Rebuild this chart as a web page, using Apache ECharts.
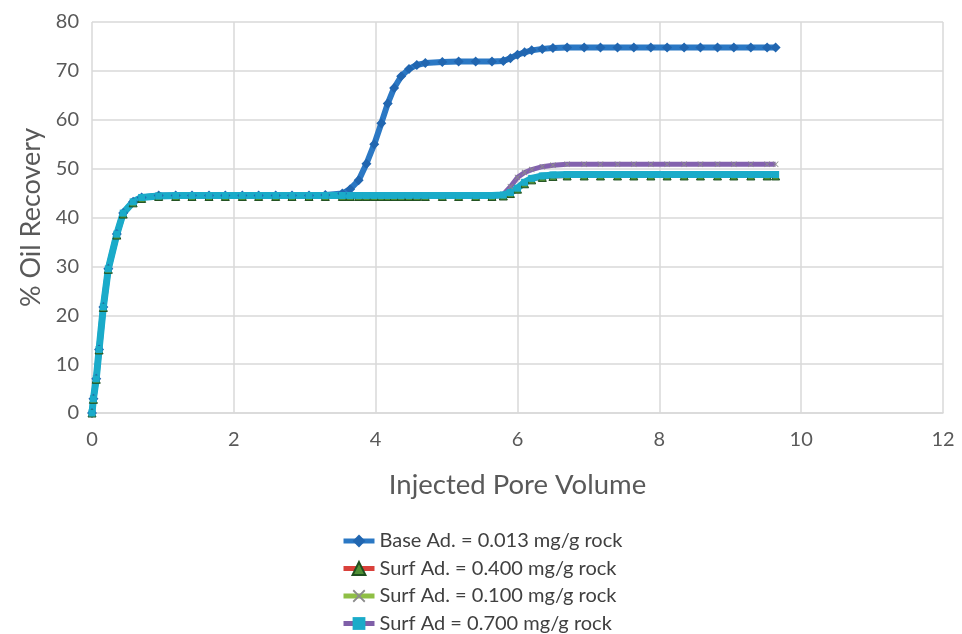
<!DOCTYPE html>
<html>
<head>
<meta charset="utf-8">
<script src="https://cdn.jsdelivr.net/npm/echarts@6/dist/echarts.min.js"></script>
<style>
  html, body { margin: 0; padding: 0; background: #ffffff; }
  #chart { width: 962px; height: 634px; }
</style>
</head>
<body>
<div id="chart"></div>
<script>
// Injected pore volume at each recorded step
const pv = [
  0, 0.02, 0.06, 0.10, 0.16, 0.23, 0.35, 0.44, 0.58, 0.70, 0.94,
  1.18, 1.41, 1.65, 1.88, 2.12, 2.35, 2.59, 2.82, 3.06, 3.29, 3.53,
  3.64, 3.76, 3.87, 3.98, 4.08, 4.17, 4.26, 4.36, 4.47, 4.58, 4.70,
  4.94, 5.17, 5.41, 5.64, 5.80, 5.90, 6.00, 6.10, 6.20, 6.35, 6.50, 6.70,
  6.94, 7.17, 7.41, 7.64, 7.88, 8.11, 8.35, 8.58, 8.82, 9.05, 9.29, 9.52, 9.64
];

// % oil recovery for each adsorption case
const baseAd = [
  0, 2.9, 7.0, 13.0, 21.7, 29.5, 36.6, 40.9, 43.2, 44.1, 44.5,
  44.5, 44.5, 44.5, 44.5, 44.5, 44.5, 44.5, 44.5, 44.5, 44.6, 44.9,
  45.8, 47.6, 51.0, 55.0, 59.3, 63.3, 66.5, 68.9, 70.4, 71.2, 71.6,
  71.8, 71.9, 71.9, 71.9, 72.0, 72.6, 73.3, 73.8, 74.2, 74.5, 74.7, 74.8,
  74.8, 74.8, 74.8, 74.8, 74.8, 74.8, 74.8, 74.8, 74.8, 74.8, 74.8, 74.8, 74.8
];
const surf400 = [
  0, 2.8, 6.9, 12.9, 21.6, 29.4, 36.4, 40.7, 43.0, 43.9, 44.3,
  44.3, 44.3, 44.3, 44.3, 44.3, 44.3, 44.3, 44.3, 44.3, 44.3, 44.3,
  44.3, 44.3, 44.3, 44.3, 44.3, 44.3, 44.3, 44.3, 44.3, 44.3, 44.3,
  44.3, 44.3, 44.3, 44.3, 44.4, 44.9, 45.8, 46.9, 47.7, 48.2, 48.4, 48.5,
  48.5, 48.5, 48.5, 48.5, 48.5, 48.5, 48.5, 48.5, 48.5, 48.5, 48.5, 48.5, 48.5
];
const surf100 = [
  0, 2.9, 7.0, 13.0, 21.7, 29.5, 36.6, 40.9, 43.2, 44.1, 44.4,
  44.5, 44.5, 44.5, 44.5, 44.5, 44.5, 44.5, 44.5, 44.5, 44.5, 44.5,
  44.5, 44.5, 44.5, 44.5, 44.5, 44.5, 44.5, 44.5, 44.5, 44.5, 44.5,
  44.5, 44.5, 44.5, 44.5, 44.7, 46.3, 48.2, 49.2, 49.8, 50.4, 50.7, 50.9,
  50.9, 50.9, 50.9, 50.9, 50.9, 50.9, 50.9, 50.9, 50.9, 50.9, 50.9, 50.9, 50.9
];
const surf700 = [
  0, 2.9, 7.0, 13.0, 21.7, 29.5, 36.6, 40.9, 43.2, 44.1, 44.4,
  44.5, 44.5, 44.5, 44.5, 44.5, 44.5, 44.5, 44.5, 44.5, 44.5, 44.5,
  44.5, 44.5, 44.5, 44.5, 44.5, 44.5, 44.5, 44.5, 44.5, 44.5, 44.5,
  44.5, 44.5, 44.5, 44.5, 44.6, 45.1, 46.0, 47.2, 48.0, 48.5, 48.7, 48.8,
  48.8, 48.8, 48.8, 48.8, 48.8, 48.8, 48.8, 48.8, 48.8, 48.8, 48.8, 48.8, 48.8
];

const seriesNames = [
  'Base Ad. = 0.013 mg/g rock',
  'Surf Ad. = 0.400 mg/g rock',
  'Surf Ad. = 0.100 mg/g rock',
  'Surf Ad = 0.700 mg/g rock'
];

const xTicks = { min: 0, max: 12, interval: 2 };
const yTicks = { min: 0, max: 80, interval: 10 };

const FONT = 'Lato';
const pairs = ys => pv.map((x, i) => [x, ys[i]]);
const crossPath = 'path://M0,1L1,0L5,4L9,0L10,1L6,5L10,9L9,10L5,6L1,10L0,9L4,5Z';

const chart = echarts.init(document.getElementById('chart'), null, { renderer: 'canvas' });

chart.setOption({
  animation: false,
  backgroundColor: '#ffffff',
  textStyle: { fontFamily: FONT },
  grid: { left: 92, right: 19, top: 22, bottom: 221, containLabel: false },
  xAxis: {
    type: 'value',
    min: xTicks.min, max: xTicks.max, interval: xTicks.interval,
    name: 'Injected Pore Volume',
    nameLocation: 'middle',
    nameGap: 58,
    nameTextStyle: { fontFamily: FONT, fontSize: 27.5, color: '#595959' },
    axisLine: { show: true, lineStyle: { color: '#d9d9d9', width: 1.5 } },
    axisTick: { show: false },
    axisLabel: { fontFamily: FONT, fontSize: 20, color: '#595959', margin: 17 },
    splitLine: { show: true, lineStyle: { color: '#d9d9d9', width: 1.5 } }
  },
  yAxis: {
    type: 'value',
    min: yTicks.min, max: yTicks.max, interval: yTicks.interval,
    name: '% Oil Recovery',
    nameLocation: 'middle',
    nameGap: 44,
    nameTextStyle: { fontFamily: FONT, fontSize: 27, color: '#595959' },
    axisLine: { show: false },
    axisTick: { show: false },
    axisLabel: { fontFamily: FONT, fontSize: 20, color: '#595959', margin: 13 },
    splitLine: { show: true, lineStyle: { color: '#d9d9d9', width: 1.5 } }
  },
  legend: {
    orient: 'vertical',
    left: 341,
    top: 531,
    height: 160,
    padding: 0,
    itemWidth: 31,
    itemHeight: 16,
    itemGap: 7.5,
    textStyle: { fontFamily: FONT, fontSize: 20, color: '#404040', lineHeight: 20 },
    data: [
      { name: seriesNames[0], lineStyle: { width: 5 } },
      { name: seriesNames[1], lineStyle: { width: 5 } },
      { name: seriesNames[2], lineStyle: { color: '#8fbf45', width: 5 }, itemStyle: { color: '#8c8c8c' } },
      { name: seriesNames[3], lineStyle: { color: '#7f5fa8', width: 5 }, itemStyle: { color: '#1aabc9' } }
    ]
  },
  series: [
    {
      name: seriesNames[0],
      type: 'line',
      data: pairs(baseAd),
      symbol: 'diamond',
      symbolSize: 10,
      showSymbol: true,
      lineStyle: { color: '#2b78c4', width: 6 },
      itemStyle: { color: '#2166b0' }
    },
    {
      name: seriesNames[1],
      type: 'line',
      data: pairs(surf400),
      symbol: 'triangle',
      symbolSize: 8,
      lineStyle: { color: '#d9413b', width: 4 },
      itemStyle: { color: '#4f8f35', borderColor: '#1f4f1f', borderWidth: 1 }
    },
    {
      name: seriesNames[2],
      type: 'line',
      data: pairs(surf100),
      symbol: crossPath,
      symbolSize: 6,
      lineStyle: { color: '#8362ae', width: 5 },
      itemStyle: { color: '#8c8c8c' }
    },
    {
      name: seriesNames[3],
      type: 'line',
      data: pairs(surf700),
      symbol: 'rect',
      symbolSize: 7,
      lineStyle: { color: '#1aabc9', width: 7 },
      itemStyle: { color: '#1aabc9' }
    }
  ]
});
</script>
</body>
</html>
